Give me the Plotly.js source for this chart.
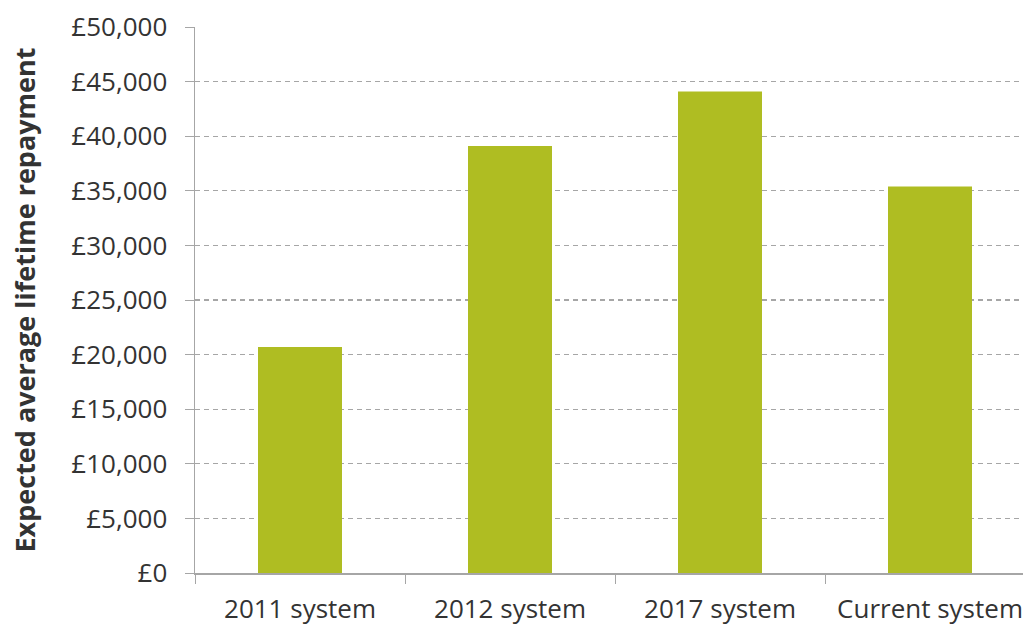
<!DOCTYPE html>
<html>
<head>
<meta charset="utf-8">
<script src="https://cdn.plot.ly/plotly-3.0.1.min.js"></script>
<style>
html,body{margin:0;padding:0;overflow:hidden;background:#fff;}
#chart{width:1045px;height:626px;}
</style>
</head>
<body>
<div id="chart"></div>
<script>
const categories = ["2011 system", "2012 system", "2017 system", "Current system"];
const repayment = [20700, 39100, 44100, 35400];
const tickValues = [0, 5000, 10000, 15000, 20000, 25000, 30000, 35000, 40000, 45000, 50000];
const tickLabels = ["£0", "£5,000", "£10,000", "£15,000", "£20,000", "£25,000", "£30,000", "£35,000", "£40,000", "£45,000", "£50,000"];

const trace = {
  type: "bar",
  x: categories,
  y: repayment,
  marker: {color: "#afbd22"},
  hoverinfo: "none"
};

const layout = {
  width: 1045,
  height: 626,
  margin: {l: 195, r: 10, t: 27, b: 53},
  paper_bgcolor: "#ffffff",
  plot_bgcolor: "#ffffff",
  bargap: 0.6,
  showlegend: false,
  font: {family: "Open Sans, sans-serif", color: "#333333", size: 26},
  xaxis: {
    type: "category",
    showline: true,
    linecolor: "#a6a6a6",
    linewidth: 1.5,
    ticks: "outside",
    ticklen: 9,
    tickcolor: "#a6a6a6",
    tickson: "boundaries",
    showgrid: false,
    ticklabelstandoff: 12,
    tickfont: {size: 26, color: "#333333"},
    fixedrange: true
  },
  yaxis: {
    range: [0, 50000],
    tickvals: tickValues,
    ticktext: tickLabels,
    showline: true,
    linecolor: "#a6a6a6",
    linewidth: 1.5,
    ticks: "outside",
    ticklen: 9,
    tickcolor: "#a6a6a6",
    showgrid: true,
    gridcolor: "#a6a6a6",
    griddash: "5px,4px",
    gridwidth: 1.2,
    zeroline: false,
    ticklabelstandoff: 12,
    tickfont: {size: 26, color: "#333333"},
    title: {text: "Expected average lifetime repayment", font: {size: 27, color: "#333333", family: "Open Sans, sans-serif", weight: "bold"}, standoff: 28},
    fixedrange: true
  }
};

Plotly.newPlot("chart", [trace], layout, {displayModeBar: false, staticPlot: true});
</script>
</body>
</html>
